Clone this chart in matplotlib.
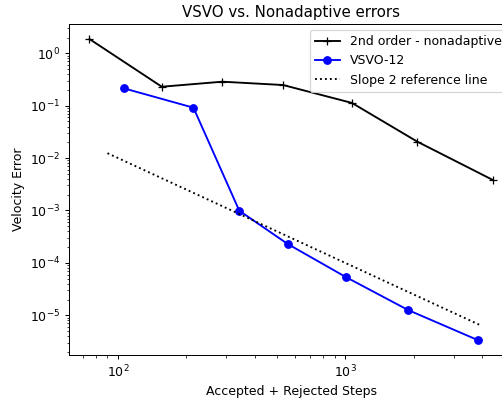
import matplotlib
matplotlib.use('Agg')
import matplotlib.pyplot as plt

# 2nd order nonadaptive run: steps vs velocity error
nonadaptive_steps = [75, 156, 288, 533, 1070, 2075, 4460]
nonadaptive_err = [1.87, 0.23, 0.287, 0.248, 0.113, 0.0206, 0.00382]

# VSVO-12 run
vsvo_steps = [106, 215, 342, 559, 1007, 1890, 3850]
vsvo_err = [0.215, 0.0916, 0.00099, 2.29e-4, 5.36e-5, 1.26e-5, 3.33e-6]

# slope 2 reference line end points
ref_steps = [90, 3980]
ref_err = [0.0124, 6.3e-6]

DPI = 90


def main():
    fig = plt.figure(figsize=(502 / DPI, 400 / DPI), dpi=DPI)
    ax = fig.add_axes([69 / 502, 45 / 400, 444 / 502, 331 / 400])

    ax.loglog(nonadaptive_steps, nonadaptive_err, 'k+-', label='2nd order - nonadaptive')
    ax.loglog(vsvo_steps, vsvo_err, 'bo-', label='VSVO-12')
    ax.loglog(ref_steps, ref_err, 'k:', label='Slope 2 reference line')

    ax.set_xlim(10 ** 1.785, 10 ** 3.738)
    ax.set_ylim(10 ** -5.758, 10 ** 0.559)
    ax.set_xlabel('Accepted + Rejected Steps')
    ax.set_ylabel('Velocity Error')
    ax.set_title('VSVO vs. Nonadaptive errors')
    ax.legend(loc='upper right')

    fig.savefig('out.png', dpi=DPI)


if __name__ == '__main__':
    main()
